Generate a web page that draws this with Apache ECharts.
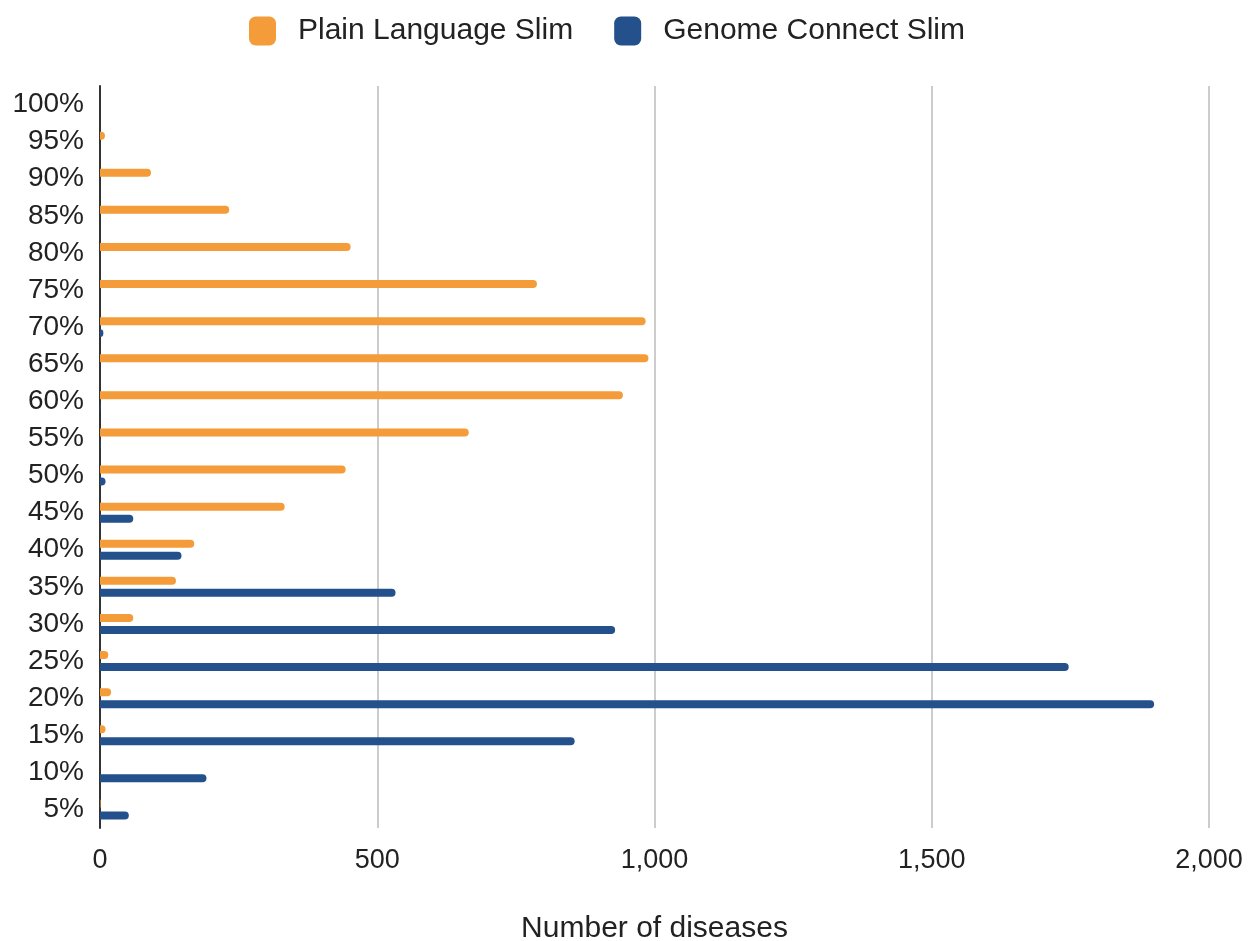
<!DOCTYPE html>
<html>
<head>
<meta charset="utf-8">
<script src="https://cdn.jsdelivr.net/npm/echarts@6/dist/echarts.min.js"></script>
<style>
html,body{margin:0;padding:0;background:#fff;}
#main{width:1249px;height:941px;}
</style>
</head>
<body>
<div id="main"></div>
<script>
var categories = ['5%','10%','15%','20%','25%','30%','35%','40%','45%','50%','55%','60%','65%','70%','75%','80%','85%','90%','95%','100%'];
var plainLanguage = [1, 0, 10, 20, 15, 60, 137, 170, 333, 443, 665, 943, 989, 984, 788, 452, 233, 92, 9, 0];
var genomeConnect = [52, 192, 856, 1901, 1747, 929, 533, 147, 60, 10, 1, 1, 0, 6, 0, 0, 0, 0, 0, 0];
var xTicks = [0, 500, 1000, 1500, 2000];

var chart = echarts.init(document.getElementById('main'));
var fontFam = '"Liberation Sans", Arial, Helvetica, sans-serif';
chart.setOption({
  animation: false,
  legend: {
    top: 11,
    left: 244,
    itemWidth: 27,
    itemHeight: 29,
    itemGap: 41,
    icon: 'roundRect',
    textStyle: {fontSize: 30, color: '#222', fontFamily: fontFam, padding: [0, 0, 0, 17]},
    data: ['Plain Language Slim', 'Genome Connect Slim']
  },
  grid: {left: 100, right: 40, top: 86, bottom: 113, containLabel: false, outerBoundsMode: 'none'},
  xAxis: {
    type: 'value',
    min: xTicks[0],
    max: xTicks[xTicks.length - 1],
    interval: 500,
    name: 'Number of diseases',
    nameLocation: 'middle',
    nameGap: 86,
    nameTextStyle: {fontSize: 30, color: '#222', fontFamily: fontFam},
    axisLine: {show: false},
    axisTick: {show: false},
    axisLabel: {fontSize: 27, color: '#222', fontFamily: fontFam, margin: 19,
      formatter: function (v) { return v.toLocaleString('en-US'); }},
    splitLine: {show: true, lineStyle: {color: '#cccccc', width: 2}}
  },
  yAxis: {
    type: 'category',
    data: categories,
    axisLine: {show: true, lineStyle: {color: '#333', width: 2}},
    axisTick: {show: false},
    axisLabel: {fontSize: 28, color: '#222', fontFamily: fontFam, margin: 16},
    splitLine: {show: false}
  },
  series: [
    {
      name: 'Plain Language Slim',
      type: 'bar',
      data: plainLanguage,
      barWidth: 8,
      barGap: '50%',
      itemStyle: {color: '#F39C39', borderRadius: [0, 4, 4, 0]}
    },
    {
      name: 'Genome Connect Slim',
      type: 'bar',
      data: genomeConnect,
      barWidth: 8,
      barGap: '50%',
      itemStyle: {color: '#24508C', borderRadius: [0, 4, 4, 0]}
    }
  ]
});
</script>
</body>
</html>
